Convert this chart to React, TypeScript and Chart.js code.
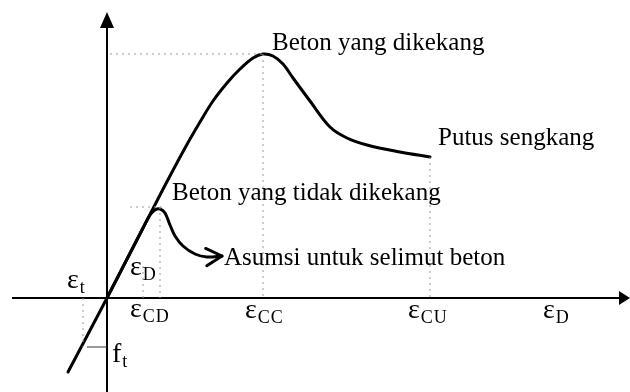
import React, { useEffect, useRef } from "react";
import { Chart, registerables } from "chart.js";

Chart.register(...registerables);

// Strain axis (x) and stress axis (y), arbitrary units
const STRAIN_RANGE = [-1.07, 5.23];
const STRESS_RANGE = [-9.4, 29.8];
const X_AXIS_SPAN = [-0.95, 5.23];
const Y_AXIS_SPAN = [-9.4, 28.6];

// Confined concrete (beton yang dikekang)
const confinedStrain = [-0.39, 0, 0.53, 0.78, 0.93, 1.06, 1.2, 1.33, 1.46, 1.56, 1.66, 1.76, 1.86, 2.03, 2.23, 2.4, 2.6, 2.93, 3.23];
const confinedStress = [-7.4, 0, 10.3, 15.0, 17.6, 19.7, 21.5, 22.9, 24.0, 24.4, 24.2, 23.4, 22.0, 19.7, 17.1, 16.0, 15.3, 14.6, 14.1];

// Unconfined concrete (beton yang tidak dikekang), ending in the cover assumption arrow
const unconfinedStrain = [0, 0.36, 0.43, 0.48, 0.53, 0.58, 0.63, 0.68, 0.76, 0.88, 1.0, 1.15];
const unconfinedStress = [0, 7.0, 8.3, 8.8, 8.9, 8.5, 7.3, 6.2, 5.2, 4.4, 4.1, 4.2];

// Dotted reference lines: start and end of each
const guideStartStrain = [0.03, 1.56, 0.23, 0.53, 0.36, 3.23, -0.24];
const guideStartStress = [24.4, 24.4, 9.1, 9.1, 0, 14.1, 0];
const guideEndStrain = [1.56, 1.56, 0.55, 0.53, 0.36, 3.23, -0.24];
const guideEndStress = [24.4, 0, 9.1, 0, 3.5, 0, -4.9];

// Tensile strength tick f_t
const ftStress = -4.9;
const ftTickStrain = [-0.2, 0];

// Curve annotations
const noteText = ["Beton yang dikekang", "Putus sengkang", "Beton yang tidak dikekang", "Asumsi untuk selimut beton"];
const noteStrain = [1.65, 3.31, 0.65, 1.17];
const noteStress = [24.8, 15.3, 9.8, 3.3];

// Symbol labels
const symbolText = ["ε", "ε", "ε", "ε", "ε", "ε", "f"];
const symbolSub = ["t", "D", "CD", "CC", "CU", "D", "t"];
const symbolStrain = [-0.4, 0.23, 0.23, 1.38, 3.01, 4.36, 0.05];
const symbolStress = [1.0, 2.3, -1.9, -2.0, -2.0, -2.0, -6.4];

const SERIF = "'Liberation Serif', 'DejaVu Serif', serif";

const toPoints = (xs: number[], ys: number[]) => xs.map((x, i) => ({ x, y: ys[i] }));

const drawingPlugin = {
  id: "stressStrainDecor",
  beforeDatasetsDraw(chart: any) {
    const { ctx, scales } = chart;
    const sx = scales.x;
    const sy = scales.y;
    const x0 = sx.getPixelForValue(0);
    const y0 = sy.getPixelForValue(0);
    ctx.save();
    ctx.strokeStyle = "#000";
    ctx.fillStyle = "#000";
    ctx.lineWidth = 2;

    // horizontal axis with arrow
    const xa = sx.getPixelForValue(X_AXIS_SPAN[0]);
    const xb = sx.getPixelForValue(X_AXIS_SPAN[1]);
    ctx.beginPath();
    ctx.moveTo(xa, y0);
    ctx.lineTo(xb - 6, y0);
    ctx.stroke();
    ctx.beginPath();
    ctx.moveTo(xb, y0);
    ctx.lineTo(xb - 11, y0 - 7);
    ctx.lineTo(xb - 11, y0 + 7);
    ctx.closePath();
    ctx.fill();

    // vertical axis with arrow
    const ya = sy.getPixelForValue(Y_AXIS_SPAN[0]);
    const yb = sy.getPixelForValue(Y_AXIS_SPAN[1]);
    ctx.beginPath();
    ctx.moveTo(x0, ya);
    ctx.lineTo(x0, yb + 8);
    ctx.stroke();
    ctx.beginPath();
    ctx.moveTo(x0, yb);
    ctx.lineTo(x0 - 7, yb + 16);
    ctx.lineTo(x0 + 7, yb + 16);
    ctx.closePath();
    ctx.fill();

    // f_t tick
    ctx.lineWidth = 1;
    ctx.strokeStyle = "#333";
    const fy = sy.getPixelForValue(ftStress);
    ctx.beginPath();
    ctx.moveTo(sx.getPixelForValue(ftTickStrain[0]), fy);
    ctx.lineTo(sx.getPixelForValue(ftTickStrain[1]), fy);
    ctx.stroke();
    ctx.restore();
  },
  afterDatasetsDraw(chart: any) {
    const { ctx, scales } = chart;
    const sx = scales.x;
    const sy = scales.y;
    ctx.save();
    ctx.fillStyle = "#000";
    ctx.strokeStyle = "#000";

    // open arrowhead at the end of the unconfined curve
    const n = unconfinedStrain.length;
    const tx = sx.getPixelForValue(unconfinedStrain[n - 1]);
    const ty = sy.getPixelForValue(unconfinedStress[n - 1]);
    const px = sx.getPixelForValue(unconfinedStrain[n - 2]);
    const py = sy.getPixelForValue(unconfinedStress[n - 2]);
    const ang = Math.atan2(ty - py, tx - px);
    const len = 18;
    const spread = 0.5;
    ctx.lineWidth = 3;
    ctx.lineCap = "round";
    ctx.lineJoin = "round";
    ctx.beginPath();
    ctx.moveTo(tx - len * Math.cos(ang - spread), ty - len * Math.sin(ang - spread));
    ctx.lineTo(tx, ty);
    ctx.lineTo(tx - len * Math.cos(ang + spread), ty - len * Math.sin(ang + spread));
    ctx.stroke();

    // curve annotations
    ctx.textBaseline = "alphabetic";
    ctx.textAlign = "left";
    ctx.font = `25px ${SERIF}`;
    noteText.forEach((t, i) => {
      ctx.fillText(t, sx.getPixelForValue(noteStrain[i]), sy.getPixelForValue(noteStress[i]));
    });

    // symbols with subscripts
    symbolText.forEach((t, i) => {
      const lx = sx.getPixelForValue(symbolStrain[i]);
      const ly = sy.getPixelForValue(symbolStress[i]);
      ctx.font = `28px ${SERIF}`;
      ctx.fillText(t, lx, ly);
      const w = ctx.measureText(t).width;
      ctx.font = `18px ${SERIF}`;
      (ctx as any).letterSpacing = "1px";
      ctx.fillText(symbolSub[i], lx + w + 1, ly + 5);
      (ctx as any).letterSpacing = "0px";
    });
    ctx.restore();
  },
};

export default function App() {
  const canvasRef = useRef<HTMLCanvasElement | null>(null);

  useEffect(() => {
    if (!canvasRef.current) return;
    const guideSets = guideStartStrain.map((x1, i) => ({
      data: [
        { x: x1, y: guideStartStress[i] },
        { x: guideEndStrain[i], y: guideEndStress[i] },
      ],
      showLine: true,
      borderColor: "#9a9a9a",
      borderWidth: 1,
      borderDash: [2, 4],
      pointRadius: 0,
      tension: 0,
    }));
    const chart = new Chart(canvasRef.current, {
      type: "scatter",
      data: {
        datasets: [
          ...guideSets,
          {
            data: toPoints(confinedStrain, confinedStress),
            showLine: true,
            borderColor: "#000",
            borderWidth: 3,
            pointRadius: 0,
            tension: 0.35,
            borderCapStyle: "round",
            borderJoinStyle: "round",
          },
          {
            data: toPoints(unconfinedStrain, unconfinedStress),
            showLine: true,
            borderColor: "#000",
            borderWidth: 3,
            pointRadius: 0,
            tension: 0.35,
            borderCapStyle: "round",
            borderJoinStyle: "round",
          },
        ] as any,
      },
      options: {
        animation: false,
        responsive: true,
        maintainAspectRatio: false,
        layout: { padding: 0 },
        plugins: { legend: { display: false }, tooltip: { enabled: false } },
        scales: {
          x: { type: "linear", min: STRAIN_RANGE[0], max: STRAIN_RANGE[1], display: false },
          y: { type: "linear", min: STRESS_RANGE[0], max: STRESS_RANGE[1], display: false },
        },
      },
      plugins: [drawingPlugin],
    });
    return () => chart.destroy();
  }, []);

  return (
    <div style={{ position: "fixed", left: 0, top: 0, width: 630, height: 392, background: "#fff" }}>
      <canvas ref={canvasRef} />
    </div>
  );
}
